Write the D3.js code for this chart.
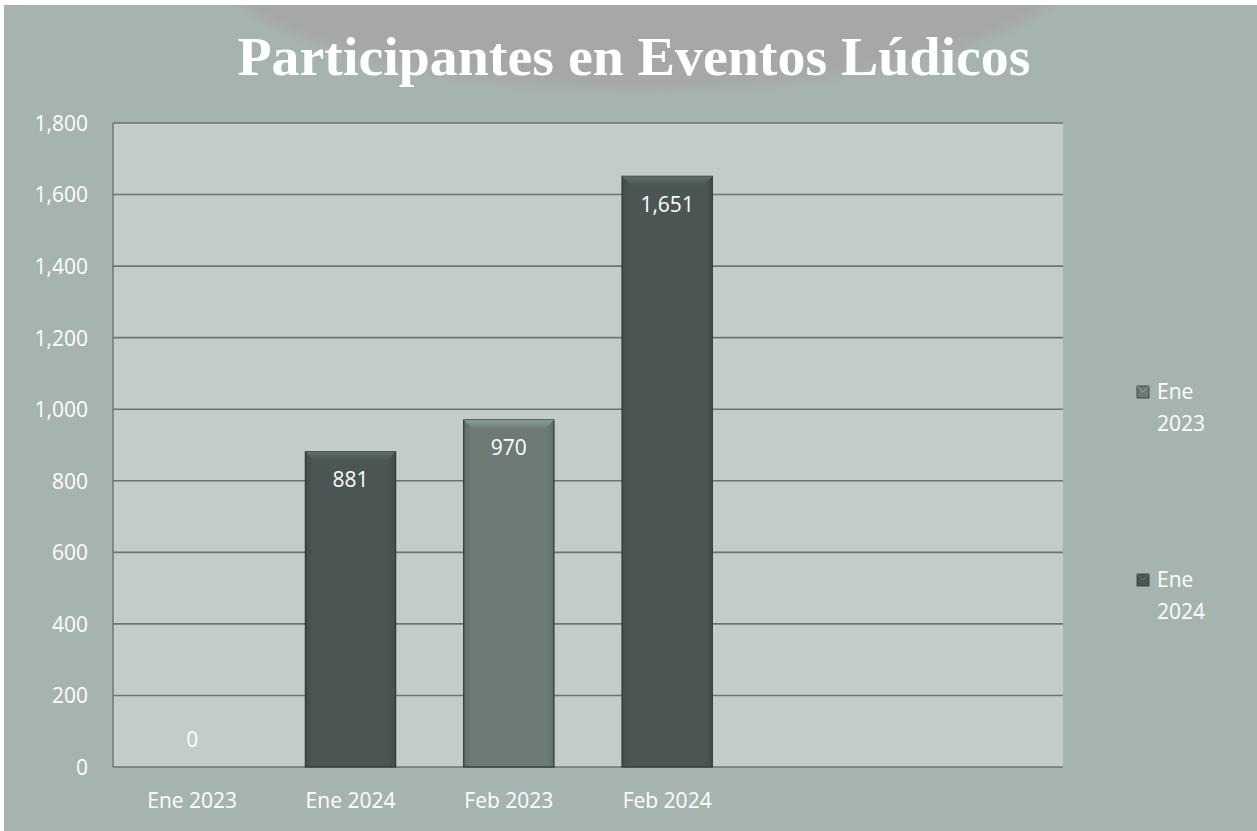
<!DOCTYPE html>
<html>
<head>
<meta charset="utf-8">
<script src="https://cdn.jsdelivr.net/npm/d3@7"></script>
<style>
  html, body { margin: 0; padding: 0; background: #fff; }
  svg { display: block; }
</style>
</head>
<body>
<svg id="chart" width="1257" height="831"></svg>
<script>
// Chart data
const categories = ["Ene 2023", "Ene 2024", "Feb 2023", "Feb 2024"];
const values = [0, 881, 970, 1651];
const seriesOf = ["Ene 2023", "Ene 2024", "Ene 2023", "Ene 2024"];
const seriesNames = ["Ene 2023", "Ene 2024"];
const seriesColors = ["#6d7b77", "#4b5653"];
const yTicks = [0, 200, 400, 600, 800, 1000, 1200, 1400, 1600, 1800];
const slotCount = 6; // category slots along the x axis (last two are empty)

const W = 1257, H = 831;
const plot = { left: 113, right: 1063, top: 123, bottom: 767 };
const labelFont = "'Open Sans', 'Noto Sans', sans-serif";

const svg = d3.select("#chart");
const defs = svg.append("defs");

// background
svg.append("rect").attr("x", 0).attr("y", 0).attr("width", W).attr("height", H).attr("fill", "#ffffff");
svg.append("rect").attr("x", 4).attr("y", 5).attr("width", W - 4).attr("height", H - 5).attr("fill", "#a6b4b0");

// grey arc behind the title
const blur = defs.append("filter").attr("id", "soft").attr("x", "-50%").attr("y", "-50%").attr("width", "200%").attr("height", "200%");
blur.append("feGaussianBlur").attr("stdDeviation", 6);
svg.append("ellipse").attr("cx", 645).attr("cy", -50).attr("rx", 440).attr("ry", 140)
  .attr("fill", "#a6a8a8").attr("filter", "url(#soft)");
svg.append("rect").attr("x", 0).attr("y", 0).attr("width", W).attr("height", 5).attr("fill", "#ffffff");

// plot area
svg.append("rect")
  .attr("x", plot.left).attr("y", plot.top)
  .attr("width", plot.right - plot.left).attr("height", plot.bottom - plot.top)
  .attr("fill", "#c2ccc9");

const x = d3.scaleBand()
  .domain(d3.range(slotCount))
  .range([plot.left, plot.right])
  .paddingInner(0.43).paddingOuter(0.215);

const y = d3.scaleLinear().domain([0, 1800]).range([plot.bottom, plot.top]);

// gridlines
svg.append("g").selectAll("line").data(yTicks).join("line")
  .attr("x1", plot.left).attr("x2", plot.right)
  .attr("y1", d => y(d)).attr("y2", d => y(d))
  .attr("stroke", "#6c7371").attr("stroke-width", 1.6);
svg.append("line")
  .attr("x1", plot.left).attr("x2", plot.left)
  .attr("y1", plot.top).attr("y2", plot.bottom)
  .attr("stroke", "#6c7371").attr("stroke-width", 1.4);

// y axis labels
const yAxis = d3.axisLeft(y).tickValues(yTicks).tickFormat(d3.format(",")).tickSize(0).tickPadding(0);
const yg = svg.append("g").attr("transform", `translate(${plot.left - 25},0)`).call(yAxis);
yg.select(".domain").remove();
yg.selectAll("text")
  .attr("fill", "#ffffff").attr("font-family", labelFont)
  .attr("font-size", 21).attr("dy", "0.35em");

// x axis labels
const xAxis = d3.axisBottom(x).tickValues(d3.range(categories.length))
  .tickFormat(i => categories[i]).tickSize(0).tickPadding(0);
const xg = svg.append("g").attr("transform", `translate(0,${plot.bottom + 34})`).call(xAxis);
xg.select(".domain").remove();
xg.selectAll("text")
  .attr("fill", "#ffffff").attr("font-family", labelFont)
  .attr("font-size", 21).attr("dy", "0.35em");

// bar gradients (bevelled look)
seriesColors.forEach((c, i) => {
  const g = defs.append("linearGradient").attr("id", "bar" + i).attr("x1", 0).attr("x2", 1).attr("y1", 0).attr("y2", 0);
  const col = d3.color(c);
  g.append("stop").attr("offset", "0%").attr("stop-color", col.darker(0.35));
  g.append("stop").attr("offset", "8%").attr("stop-color", c);
  g.append("stop").attr("offset", "92%").attr("stop-color", c);
  g.append("stop").attr("offset", "100%").attr("stop-color", col.darker(0.35));
  const t = defs.append("linearGradient").attr("id", "bev" + i).attr("x1", 0).attr("x2", 0).attr("y1", 0).attr("y2", 1);
  t.append("stop").attr("offset", "0%").attr("stop-color", col.brighter(0.9));
  t.append("stop").attr("offset", "100%").attr("stop-color", c);
});

const bars = categories.map((c, i) => ({ i, cat: c, v: values[i], s: seriesNames.indexOf(seriesOf[i]) }));
const bw = x.bandwidth();

const barG = svg.append("g");
barG.selectAll("rect.bar").data(bars.filter(d => d.v > 0)).join("rect")
  .attr("class", "bar")
  .attr("x", d => x(d.i)).attr("y", d => y(d.v))
  .attr("width", bw).attr("height", d => y(0) - y(d.v))
  .attr("fill", d => `url(#bar${d.s})`)
  .attr("stroke", "#2f3634").attr("stroke-width", 1.2);

// bevel cap on each bar top
const bev = 9;
barG.selectAll("path.bev").data(bars.filter(d => d.v > 0)).join("path")
  .attr("class", "bev")
  .attr("d", d => {
    const x0 = x(d.i), x1 = x0 + bw, t = y(d.v);
    return `M${x0},${t}L${x1},${t}L${x1 - bev},${t + bev}L${x0 + bev},${t + bev}Z`;
  })
  .attr("fill", d => `url(#bev${d.s})`).attr("opacity", 0.75);

// value labels, just inside the top of each bar
svg.append("g").selectAll("text").data(bars).join("text")
  .attr("x", d => x(d.i) + bw / 2)
  .attr("y", d => d.v === 0 ? y(0) - 27 : y(d.v) + 28)
  .attr("text-anchor", "middle")
  .attr("fill", "#ffffff")
  .attr("font-family", labelFont)
  .attr("font-size", 21)
  .attr("dy", "0.35em")
  .text(d => d3.format(",")(d.v));

// title
svg.append("text")
  .attr("x", 634).attr("y", 75)
  .attr("text-anchor", "middle")
  .attr("fill", "#ffffff")
  .attr("font-family", "'Liberation Serif', 'DejaVu Serif', serif")
  .attr("font-weight", "bold")
  .attr("font-size", 54)
  .attr("textLength", 793)
  .attr("lengthAdjust", "spacingAndGlyphs")
  .text("Participantes en Eventos Lúdicos");

// legend
const legendY = [392, 580];
const lg = svg.append("g");
seriesNames.forEach((name, i) => {
  const g = lg.append("g").attr("transform", `translate(1137,${legendY[i]})`);
  g.append("rect").attr("x", 0).attr("y", -6).attr("width", 12).attr("height", 12)
    .attr("fill", seriesColors[i]).attr("stroke", "#2f3634").attr("stroke-width", 0.8);
  g.append("path").attr("d", "M0,-6L6,0L12,-6").attr("fill", "none").attr("stroke", d3.color(seriesColors[i]).brighter(0.8)).attr("stroke-width", 1);
  const parts = name.split(" ");
  const t = g.append("text").attr("fill", "#ffffff")
    .attr("font-family", labelFont).attr("font-size", 21);
  t.append("tspan").attr("x", 20).attr("y", 0).attr("dy", "0.35em").text(parts[0]);
  t.append("tspan").attr("x", 20).attr("y", 32).attr("dy", "0.35em").text(parts[1]);
});
</script>
</body>
</html>
